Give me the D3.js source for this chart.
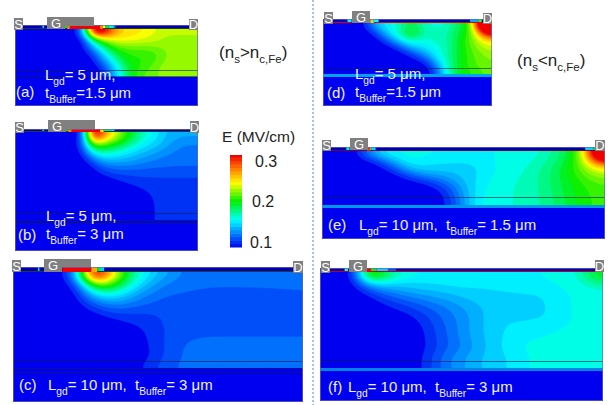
<!DOCTYPE html>
<html><head><meta charset="utf-8">
<script src="https://cdn.jsdelivr.net/npm/d3@7"></script>
<style>html,body{margin:0;background:#fff}svg{display:block}text{font-family:"Liberation Sans",Arial,sans-serif}</style>
</head><body><svg id="c" width="611" height="405"></svg>
<script>
// E-field values (MV/cm), 20 columns per row, top row first
const fieldA=[
[.1,.1,.1,.1,.1,.1,.1,.13,.33,.32,.28,.25,.245,.245,.24,.235,.23,.23,.23,.23],
[.1,.1,.1,.1,.1,.1,.1,.105,.2,.24,.245,.245,.245,.24,.235,.23,.225,.225,.225,.225],
[.1,.1,.1,.1,.1,.1,.1,.1,.15,.19,.215,.225,.225,.225,.225,.225,.225,.225,.225,.225],
[.1,.1,.1,.1,.1,.1,.1,.1,.125,.16,.19,.205,.21,.21,.21,.215,.22,.225,.225,.225],
[.1,.1,.1,.1,.1,.1,.1,.1,.105,.14,.17,.195,.205,.205,.205,.21,.22,.225,.225,.225],
[.1,.1,.1,.1,.1,.1,.1,.1,.1,.125,.15,.18,.2,.205,.205,.215,.222,.225,.225,.225],
[.1,.1,.1,.1,.1,.1,.1,.1,.1,.105,.14,.165,.195,.205,.21,.22,.225,.225,.225,.225],
[.1,.1,.1,.1,.1,.1,.1,.1,.1,.1,.13,.16,.195,.21,.215,.22,.222,.225,.225,.225]];
const fieldB=[
[.1,.1,.1,.1,.1,.1,.1,.105,.34,.28,.25,.22,.2,.18,.165,.155,.145,.14,.14,.14],
[.1,.1,.1,.1,.1,.1,.1,.12,.23,.225,.21,.2,.185,.165,.155,.15,.14,.135,.13,.13],
[.1,.1,.1,.1,.1,.1,.1,.11,.175,.18,.175,.165,.155,.15,.145,.14,.135,.13,.127,.127],
[.1,.1,.1,.1,.1,.1,.1,.1,.13,.15,.15,.15,.145,.14,.135,.13,.128,.126,.125,.125],
[.1,.1,.1,.1,.1,.1,.1,.1,.105,.125,.13,.13,.13,.128,.126,.125,.124,.124,.124,.124],
[.1,.1,.1,.1,.1,.1,.1,.1,.1,.108,.115,.118,.118,.118,.118,.118,.118,.118,.118,.118],
[.1,.1,.1,.1,.1,.1,.1,.1,.1,.1,.103,.108,.11,.113,.113,.113,.113,.113,.113,.113],
[.1,.1,.1,.1,.1,.1,.1,.1,.1,.1,.1,.102,.105,.107,.11,.112,.113,.113,.113,.113],
[.1,.1,.1,.1,.1,.1,.1,.1,.1,.1,.1,.1,.101,.103,.106,.11,.113,.113,.113,.113],
[.1,.1,.1,.1,.1,.1,.1,.1,.1,.1,.1,.1,.1,.101,.104,.109,.113,.113,.113,.113],
[.1,.1,.1,.1,.1,.1,.1,.1,.1,.1,.1,.1,.1,.1,.103,.109,.113,.113,.113,.113],
[.1,.1,.1,.1,.1,.1,.1,.1,.1,.1,.1,.1,.1,.1,.103,.109,.113,.113,.113,.113]];
const fieldC=[
[.1,.1,.1,.1,.14,.34,.27,.21,.17,.15,.14,.13,.125,.125,.125,.125,.125,.125,.125,.125],
[.1,.1,.1,.1,.11,.22,.22,.19,.155,.14,.128,.125,.125,.125,.125,.125,.125,.125,.125,.125],
[.1,.1,.1,.1,.102,.16,.175,.16,.14,.13,.125,.124,.122,.12,.119,.119,.12,.12,.121,.122],
[.1,.1,.1,.1,.1,.13,.14,.14,.13,.124,.12,.118,.118,.118,.118,.118,.118,.118,.118,.118],
[.1,.1,.1,.1,.1,.11,.122,.124,.12,.118,.118,.118,.118,.118,.118,.118,.118,.118,.118,.118],
[.1,.1,.1,.1,.1,.1,.108,.11,.112,.113,.116,.118,.118,.118,.118,.118,.118,.118,.118,.118],
[.1,.1,.1,.1,.1,.1,.1,.106,.108,.112,.116,.118,.118,.118,.118,.118,.118,.118,.118,.118],
[.1,.1,.1,.1,.1,.1,.1,.1,.103,.11,.116,.118,.118,.118,.118,.118,.118,.118,.118,.118],
[.1,.1,.1,.1,.1,.1,.1,.1,.102,.109,.116,.12,.124,.126,.126,.126,.126,.126,.126,.126],
[.1,.1,.1,.1,.1,.1,.1,.1,.101,.108,.116,.122,.126,.126,.126,.126,.126,.126,.126,.126],
[.1,.1,.1,.1,.1,.1,.1,.1,.1,.107,.116,.122,.126,.126,.126,.126,.126,.126,.126,.126],
[.1,.1,.1,.1,.1,.1,.1,.1,.103,.113,.118,.124,.126,.126,.126,.126,.126,.126,.126,.126]];
const fieldD=[
[.1,.1,.1,.1,.1,.12,.15,.155,.165,.175,.19,.175,.165,.165,.165,.18,.19,.205,.34,.36],
[.1,.1,.1,.1,.1,.1,.12,.15,.165,.185,.21,.185,.17,.175,.17,.185,.195,.21,.26,.33],
[.1,.1,.1,.1,.1,.1,.102,.12,.15,.165,.175,.165,.165,.175,.17,.185,.2,.215,.235,.25],
[.1,.1,.1,.1,.1,.1,.1,.102,.11,.135,.155,.155,.16,.165,.17,.185,.2,.215,.225,.235],
[.1,.1,.1,.1,.1,.1,.1,.1,.1,.105,.12,.14,.15,.165,.17,.185,.2,.21,.22,.225],
[.1,.1,.1,.1,.1,.1,.1,.1,.1,.1,.102,.11,.13,.155,.17,.185,.2,.21,.215,.22],
[.1,.1,.1,.1,.1,.1,.1,.1,.1,.1,.1,.101,.105,.14,.165,.185,.2,.21,.215,.22],
[.1,.1,.1,.1,.1,.1,.1,.1,.1,.1,.1,.1,.1,.12,.16,.185,.2,.205,.21,.215]];
const fieldE=[
[.1,.1,.1,.14,.16,.16,.165,.16,.16,.16,.16,.16,.16,.16,.162,.168,.176,.192,.22,.37],
[.1,.1,.1,.1,.125,.155,.16,.155,.155,.153,.153,.157,.162,.163,.165,.172,.18,.195,.222,.30],
[.1,.1,.1,.1,.102,.13,.155,.15,.15,.148,.15,.155,.162,.164,.167,.174,.185,.2,.218,.245],
[.1,.1,.1,.1,.1,.105,.125,.14,.14,.145,.15,.155,.163,.165,.169,.176,.186,.2,.213,.225],
[.1,.1,.1,.1,.1,.1,.102,.11,.125,.14,.15,.158,.165,.166,.17,.176,.186,.196,.208,.215],
[.1,.1,.1,.1,.1,.1,.1,.102,.108,.13,.15,.16,.166,.167,.17,.176,.185,.195,.204,.21],
[.1,.1,.1,.1,.1,.1,.1,.1,.102,.125,.15,.162,.166,.167,.17,.175,.184,.194,.204,.208],
[.1,.1,.1,.1,.1,.1,.1,.1,.101,.12,.15,.165,.166,.167,.17,.175,.183,.193,.202,.208]];
const fieldF=[
[.1,.1,.1,.24,.19,.17,.162,.158,.16,.16,.16,.16,.16,.16,.16,.16,.16,.163,.17,.2],
[.1,.1,.1,.14,.15,.15,.15,.153,.153,.155,.155,.155,.155,.156,.158,.16,.16,.162,.163,.175],
[.1,.1,.1,.11,.128,.133,.14,.143,.145,.148,.15,.15,.152,.152,.153,.153,.157,.16,.162,.162],
[.1,.1,.1,.1,.11,.118,.125,.13,.135,.14,.145,.148,.15,.15,.15,.15,.155,.16,.162,.162],
[.1,.1,.1,.1,.103,.108,.113,.12,.127,.132,.14,.145,.15,.15,.15,.15,.155,.16,.162,.162],
[.1,.1,.1,.1,.1,.102,.106,.114,.122,.13,.137,.145,.15,.15,.15,.151,.153,.16,.162,.162],
[.1,.1,.1,.1,.1,.1,.102,.11,.12,.128,.137,.145,.152,.153,.154,.155,.157,.16,.162,.162],
[.1,.1,.1,.1,.1,.1,.1,.108,.118,.128,.138,.145,.15,.155,.157,.158,.16,.162,.162,.162],
[.1,.1,.1,.1,.1,.1,.1,.107,.118,.126,.136,.145,.15,.157,.16,.161,.162,.162,.162,.162],
[.1,.1,.1,.1,.1,.1,.1,.106,.117,.125,.134,.143,.15,.158,.161,.162,.162,.162,.162,.162],
[.1,.1,.1,.1,.1,.1,.1,.11,.1225,.133,.139,.146,.15,.153,.16,.162,.162,.162,.162,.162],
[.1,.1,.1,.1,.1,.1,.1,.11,.1225,.133,.139,.146,.15,.153,.16,.162,.162,.162,.162,.162]];
// E along the top channel strip: [start % of device width, E]
const stripA=[[0,.09],[15,.15],[16,.09],[27,.2],[28.5,.27],[30,.3],[46.5,.27],[48,.24],[49.5,.2],[51,.17],[54,.13],[55,.09]];
const stripB=[[0,.09],[15,.15],[16,.09],[27.5,.2],[29,.27],[31,.3],[46.5,.25],[48.5,.19],[52,.15],[54.5,.09]];
const stripC=[[0,.09],[8.6,.15],[9.2,.09],[17,.3],[27,.26],[29,.2],[30,.15],[31.5,.09]];
const stripD=[[0,.09],[14.5,.16],[17,.09],[28,.25],[30,.16],[33,.09],[87,.14],[92,.21],[94,.09]];
const stripE=[[0,.09],[8.6,.17],[9.8,.09],[16,.29],[17,.22],[17.5,.15],[19,.09],[93,.15],[96,.2],[97,.09]];
const stripF=[[0,.09],[8.7,.16],[10,.09],[15.8,.3],[18,.2],[20,.15],[24,.12],[27,.09]];
const thresholds=d3.range(.1075,.3001,.0075);
const legendTicks=[.3,.2,.1];
const legendTitle="E (MV/cm)";

const color=d3.scaleLinear()
 .domain([.09,.1,.13,.16,.2,.24,.27,.3])
 .range(["#0000b0","#0000f0","#0080ff","#00ffff","#00f000","#ffff00","#ff8000","#f00000"])
 .clamp(true);
const step=.0075;

const svg=d3.select("#c");
const defs=svg.append("defs");
defs.append("filter").attr("id","soft").attr("x","-2%").attr("y","-2%").attr("width","104%").attr("height","104%")
 .append("feGaussianBlur").attr("stdDeviation",.4);

// resample a coarse reading table onto a fine lattice so the iso-bands come out round
function refine(f,k,r){
 const R=f.length,C=f[0].length,W=C*k,H=R*k,out=new Float64Array(W*H);
 for(let j=0;j<H;j++){
  const v=Math.max(0,Math.min(R-1,(j+.5)/k-.5)),j0=Math.floor(v),j1=Math.min(R-1,j0+1),tv=v-j0;
  for(let i=0;i<W;i++){
   const u=Math.max(0,Math.min(C-1,(i+.5)/k-.5)),i0=Math.floor(u),i1=Math.min(C-1,i0+1),tu=u-i0;
   out[j*W+i]=(1-tv)*((1-tu)*f[j0][i0]+tu*f[j0][i1])+tv*((1-tu)*f[j1][i0]+tu*f[j1][i1]);
  }
 }
 d3.blur2({data:out,width:W,height:H},r);
 return {data:out,W,H};
}

const panels=[
{id:"a",f:fieldA,s:stripA,x0:15,x1:198,top:25,ch:29,fb:77,bot:106,lines:[70,76],band:null,ul:"#204020",
 S:[14,18,9,12],G:[47,17,47,9],Gl:18,Gx:56,D:[189,19,9,11],
 lab:[16,97],L:[45,80,"= 5 μm,"],T:[45,98,"=1.5 μm"]},
{id:"b",f:fieldB,s:stripB,x0:15,x1:198,top:129,ch:132,fb:220,bot:251,lines:[213,220,223],band:null,ul:"#204020",
 S:[15,122,9,11],G:[48,120,47,9],Gl:18,Gx:57,D:[190,121,9,12],
 lab:[18,240],L:[46,221,"= 5 μm,"],T:[46,239,"= 3 μm"]},
{id:"c",f:fieldC,s:stripC,x0:13,x1:303,top:267,ch:272,fb:368,bot:402,lines:[361,368,372],band:null,ul:"#204020",
 S:[12,260,9,12],G:[44,259,47,8],Gl:18,Gx:53,D:[293,261,10,12],
 lab:[19,390],L:[48,390,"= 10 μm,"],T:[135,390,"= 3 μm"]},
{id:"d",f:fieldD,s:stripD,x0:323,x1:492,top:19,ch:23,fb:74,bot:106,lines:[68],band:[74,77,"#00a4f4"],ul:"#e00000",
 S:[324,12,9,12],G:[352,11,18,12],Gl:0,Gx:361,D:[483,13,9,11],
 lab:[327,98],L:[355,79,"= 5 μm,"],T:[355,97,"=1.5 μm"]},
{id:"e",f:fieldE,s:stripE,x0:322,x1:605,top:147,ch:151,fb:205,bot:239,lines:[197],band:[205,208,"#0098e8"],ul:"#700040",
 S:[322,140,9,11],G:[350,138,18,12],Gl:0,Gx:359,D:[595,140,10,11],
 lab:[328,230],L:[359,230,"= 10 μm,"],T:[446,230,"= 1.5 μm"]},
{id:"f",f:fieldF,s:stripF,x0:320,x1:603,top:268,ch:272,fb:368,bot:401,lines:[361],band:[368,371,"#0084e0"],ul:"#c00010",
 S:[321,261,9,12],G:[349,260,18,12],Gl:0,Gx:358,D:[595,260,9,12],
 lab:[328,392],L:[348,392,"= 10 μm,"],T:[435,392,"= 3 μm"]}
];

const greyBox="#808080", tc="#eef2ff";
function subText(g,x,y,main,sub,rest,size,fill){
 const t=g.append("text").attr("x",x).attr("y",y).attr("font-size",size).attr("fill",fill);
 t.append("tspan").text(main);
 t.append("tspan").attr("font-size",size*.68).attr("dy",size*.3).text(sub);
 t.append("tspan").attr("dy",-size*.3).text(rest);
 return t;
}

panels.forEach(p=>{
 const g=svg.append("g").attr("class","panel-"+p.id);
 const fine=refine(p.f,6,3);
 const x=d3.scaleLinear().domain([0,fine.W]).range([p.x0,p.x1]);
 const y=d3.scaleLinear().domain([0,fine.H]).range([p.ch,p.fb]);
 const pct=d3.scaleLinear().domain([0,100]).range([p.x0,p.x1]);
 g.append("rect").attr("x",p.x0).attr("y",p.top).attr("width",p.x1-p.x0).attr("height",p.bot-p.top).attr("fill",color(.1));
 const clip="clip"+p.id;
 defs.append("clipPath").attr("id",clip).append("rect").attr("x",p.x0).attr("y",p.ch).attr("width",p.x1-p.x0).attr("height",p.fb-p.ch);
 const contours=d3.contours().size([fine.W,fine.H]).smooth(true).thresholds(thresholds)(Array.from(fine.data));
 const path=d3.geoPath(d3.geoTransform({point(a,b){this.stream.point(x(a),y(b));}}));
 g.append("g").attr("clip-path",`url(#${clip})`).append("g").attr("filter","url(#soft)")
  .selectAll("path").data(contours).join("path")
  .attr("d",path).attr("fill",d=>color(d.value+step/2)).attr("stroke",d=>color(d.value+step/2)).attr("stroke-width",.3);
 if(p.band) g.append("rect").attr("x",p.x0).attr("y",p.band[0]).attr("width",p.x1-p.x0).attr("height",p.band[1]-p.band[0]).attr("fill",p.band[2]);
 p.lines.forEach(l=>g.append("line").attr("x1",p.x0).attr("x2",p.x1).attr("y1",l+.5).attr("y2",l+.5).attr("stroke","#10204a").attr("stroke-opacity",.6));
 g.selectAll("rect.strip").data(p.s).join("rect").attr("class","strip")
  .attr("x",d=>pct(d[0])).attr("y",p.top)
  .attr("width",(d,i)=>pct(i+1<p.s.length?p.s[i+1][0]:100)-pct(d[0]))
  .attr("height",p.ch-p.top-1).attr("fill",d=>color(d[1]));
 g.append("rect").attr("x",p.x0).attr("y",p.ch-1).attr("width",p.x1-p.x0).attr("height",1).attr("fill",p.ul);
 g.selectAll("rect.strip2").data(p.s.filter(d=>d[1]>=.25)).join("rect").attr("class","strip2")
  .attr("x",d=>pct(d[0])).attr("y",p.ch-1)
  .attr("width",d=>{const i=p.s.indexOf(d);return pct(i+1<p.s.length?p.s[i+1][0]:100)-pct(d[0]);})
  .attr("height",1).attr("fill",d=>color(d[1]));
 g.append("rect").attr("x",p.x0+.5).attr("y",p.top+.5).attr("width",p.x1-p.x0-1).attr("height",p.bot-p.top-1).attr("fill","none").attr("stroke","#6a6aa8").attr("stroke-opacity",.7);
 const box=(b)=>g.append("rect").attr("x",b[0]).attr("y",b[1]).attr("width",b[2]).attr("height",b[3]).attr("fill",greyBox);
 box(p.S);box(p.D);box(p.G);
 if(p.Gl) box([p.G[0],p.G[1],p.Gl,p.ch-p.G[1]]);
 const lt=(s,xx,yy)=>g.append("text").attr("x",xx).attr("y",yy).attr("text-anchor","middle").attr("font-size",13).attr("fill","#fff").text(s);
 lt("S",p.S[0]+p.S[2]/2,p.S[1]+p.S[3]-1.5);
 lt("D",p.D[0]+p.D[2]/2,p.D[1]+p.D[3]-1);
 lt("G",p.Gx,p.G[1]+11);
 g.append("text").attr("x",p.lab[0]).attr("y",p.lab[1]).attr("font-size",15).attr("fill",tc).text(`(${p.id})`);
 subText(g,p.L[0],p.L[1],"L","gd",p.L[2],15,tc);
 subText(g,p.T[0],p.T[1],"t","Buffer",p.T[2],15,tc);
});

// headings
const tail=t=>{t.append("tspan").attr("font-size",11.5).attr("dy",5).text("c,Fe");t.append("tspan").attr("dy",-5).text(")");};
subText(svg,219,58,"(n","s",">n",17,"#222").call(tail);
subText(svg,517,66,"(n","s","<n",17,"#222").call(tail);

// legend
const ly=d3.scaleLinear().domain([.1,.3]).range([247,155]);
svg.append("text").attr("x",222).attr("y",142).attr("font-size",15.5).attr("fill","#222").text(legendTitle);
const bands=d3.range(.1,.3,step);
svg.append("g").selectAll("rect").data(bands).join("rect")
 .attr("x",230).attr("width",12)
 .attr("y",d=>ly(Math.min(d+step,.3))).attr("height",d=>ly(d)-ly(Math.min(d+step,.3))+.5)
 .attr("fill",d=>color(d+step/2));
const tickX={0.3:255,0.2:252,0.1:250}, tickY={0.3:167,0.2:207,0.1:248};
svg.append("g").selectAll("text").data(legendTicks).join("text")
 .attr("x",d=>tickX[d]).attr("y",d=>tickY[d]).attr("font-size",16).attr("fill","#222").text(d=>d3.format(".1f")(d));

svg.append("line").attr("x1",313).attr("x2",313).attr("y1",0).attr("y2",405)
 .attr("stroke","#8fb6dc").attr("stroke-width",1.6).attr("stroke-dasharray","2 2");
</script></body></html>
